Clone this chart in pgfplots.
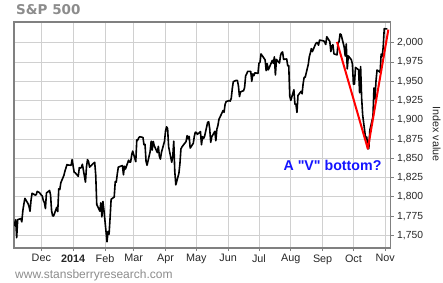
\documentclass[border=0pt]{standalone}
\usepackage{pgfplots}
\pgfplotsset{compat=1.18}
\usepackage{fontspec}
\setmainfont{Liberation Sans}
\newfontfamily\titlefont{DejaVu Sans}
\newfontfamily\plainfont{Liberation Sans}[Ligatures=TeXOff]
\definecolor{gridc}{HTML}{D0D0D0}
\definecolor{framec}{HTML}{808080}
\definecolor{titlec}{HTML}{8C8C8C}
\definecolor{vblue}{HTML}{1414FF}
\begin{document}
\begin{tikzpicture}[x=1pt,y=1pt]
\useasboundingbox (0,0) rectangle (443,282);
\begin{axis}[
  at={(14pt,34pt)}, anchor=south west,
  scale only axis, width=376.7pt, height=226pt,
  xmin=-26.6, xmax=340.3, ymin=1733.8, ymax=2026.8,
  axis line style={framec, line width=1.1pt},
  grid=major, major grid style={gridc, line width=0.9pt},
  tick align=outside, major tick length=3pt,
  tick style={framec, line width=0.9pt},
  xtick pos=bottom, ytick pos=right,
  yticklabel pos=right,
  xtick={0,31,62,90,121,151,182,212,243,274,304,335},
  xticklabels={Dec,\textbf{2014},Feb,Mar,Apr,May,Jun,Jul,Aug,Sep,Oct,Nov},
  ytick={1750,1775,...,2000},
  /pgf/number format/assume math mode=true,
  /pgf/number format/1000 sep={,},
  ticklabel style={font=\fontsize{10.3}{12}\selectfont, text=black!85},
  xticklabel style={font=\fontsize{10.8}{12}\selectfont},
  clip=true,
]
\addplot[black, line width=1.6pt, line join=round] table {
-27 1767.93
-26 1762.97
-25 1770.49
-24 1747.15
-23 1770.61
-20 1771.89
-19 1767.69
-18 1782.00
-17 1790.62
-16 1798.18
-13 1791.53
-12 1787.87
-11 1781.37
-10 1795.85
-9 1804.76
-6 1802.48
-5 1802.75
-4 1807.23
-2 1805.81
1 1800.90
2 1795.15
3 1792.81
4 1785.03
5 1805.09
8 1808.37
9 1802.62
10 1782.22
11 1775.50
12 1775.32
15 1786.54
16 1781.00
17 1810.65
18 1809.60
19 1818.32
22 1827.99
23 1833.32
25 1842.02
26 1841.40
29 1841.07
30 1848.36
32 1831.98
33 1831.37
36 1826.77
37 1837.88
38 1837.49
39 1838.13
40 1842.37
43 1819.20
44 1838.88
45 1848.38
46 1845.89
47 1838.70
51 1843.80
52 1844.86
53 1828.46
54 1790.29
57 1781.56
58 1792.50
59 1774.20
60 1794.19
61 1782.59
64 1741.89
65 1755.20
66 1751.64
67 1773.43
68 1797.02
71 1799.84
72 1819.75
73 1819.26
74 1829.83
75 1838.63
79 1840.76
80 1828.75
81 1839.78
82 1836.25
85 1847.61
86 1845.12
87 1845.16
88 1854.29
89 1859.45
92 1845.73
93 1873.91
94 1873.81
95 1877.03
96 1878.04
99 1877.17
100 1867.63
101 1868.20
102 1846.34
103 1841.13
106 1858.83
107 1872.25
108 1860.77
109 1872.01
110 1866.52
113 1857.44
114 1865.62
115 1852.56
116 1849.04
117 1857.62
120 1872.34
121 1885.52
122 1890.90
123 1888.77
124 1865.09
127 1845.04
128 1851.96
129 1872.18
130 1833.08
131 1815.69
134 1830.61
135 1842.98
136 1862.31
137 1864.85
141 1871.89
142 1879.55
143 1875.39
144 1878.61
145 1863.40
148 1869.43
149 1878.33
150 1883.95
151 1883.68
152 1881.14
155 1884.66
156 1867.72
157 1878.21
158 1875.63
159 1878.48
162 1896.65
163 1897.45
164 1888.53
165 1870.85
166 1877.86
169 1885.08
170 1872.83
171 1888.03
172 1892.49
173 1900.53
177 1911.91
178 1909.78
179 1920.03
180 1923.57
183 1924.97
184 1924.24
185 1927.88
186 1940.46
187 1949.44
190 1951.27
191 1950.79
192 1943.89
193 1930.11
194 1936.16
197 1937.78
198 1941.99
199 1956.98
200 1959.48
201 1962.87
204 1962.61
205 1949.98
206 1959.53
207 1957.22
208 1960.96
211 1960.23
212 1973.32
213 1974.62
214 1985.44
218 1977.65
219 1963.71
220 1972.83
221 1964.68
222 1967.57
225 1977.10
226 1973.28
227 1981.57
228 1958.12
229 1978.22
232 1973.63
233 1983.53
234 1987.01
235 1987.98
236 1978.34
239 1978.91
240 1969.95
241 1970.07
242 1930.67
243 1925.15
246 1938.99
247 1920.21
248 1920.24
249 1909.57
250 1931.59
253 1936.92
254 1933.75
255 1946.72
256 1955.18
257 1955.06
260 1971.74
261 1981.60
262 1986.51
263 1992.37
264 1988.40
267 1997.92
268 2000.02
269 2000.12
270 1996.74
271 2003.37
275 2002.28
276 2000.72
277 1997.65
278 2007.71
281 2001.54
282 1988.44
283 1995.69
284 1997.45
285 1985.54
288 1984.13
289 1998.98
290 2001.57
291 2011.36
292 2010.40
295 1994.29
296 1982.77
297 1998.30
298 1965.99
299 1982.85
302 1977.80
303 1972.29
304 1946.16
305 1946.17
306 1967.90
309 1964.82
310 1935.10
311 1968.89
312 1928.21
313 1906.13
316 1874.74
317 1877.70
318 1862.49
319 1862.76
320 1886.76
323 1904.01
324 1941.28
325 1927.11
326 1950.82
327 1964.58
330 1961.63
331 1985.05
332 1982.30
333 1994.65
334 2018.05
337 2017.81
};
\addplot[red, line width=2pt, line join=round] coordinates {(288,2001) (318,1862.5) (338,2017)};
\end{axis}
\node[anchor=west, inner sep=0, text=titlec, font=\titlefont\bfseries\fontsize{13.5}{15}\selectfont] at (16,272) {S\&P 500};
\node[anchor=west, inner sep=0, text=titlec, font=\fontsize{12}{14}\selectfont] at (15,7) {www.stansberryresearch.com};
\node[rotate=-90, inner sep=0, font=\fontsize{10.7}{12}\selectfont, text=black!85] at (436.7,148) {Index value};
\node[inner sep=0, text=vblue, font=\plainfont\bfseries\fontsize{14.2}{16}\selectfont] at (332.5,117) {A "V" bottom?};
\end{tikzpicture}
\end{document}
